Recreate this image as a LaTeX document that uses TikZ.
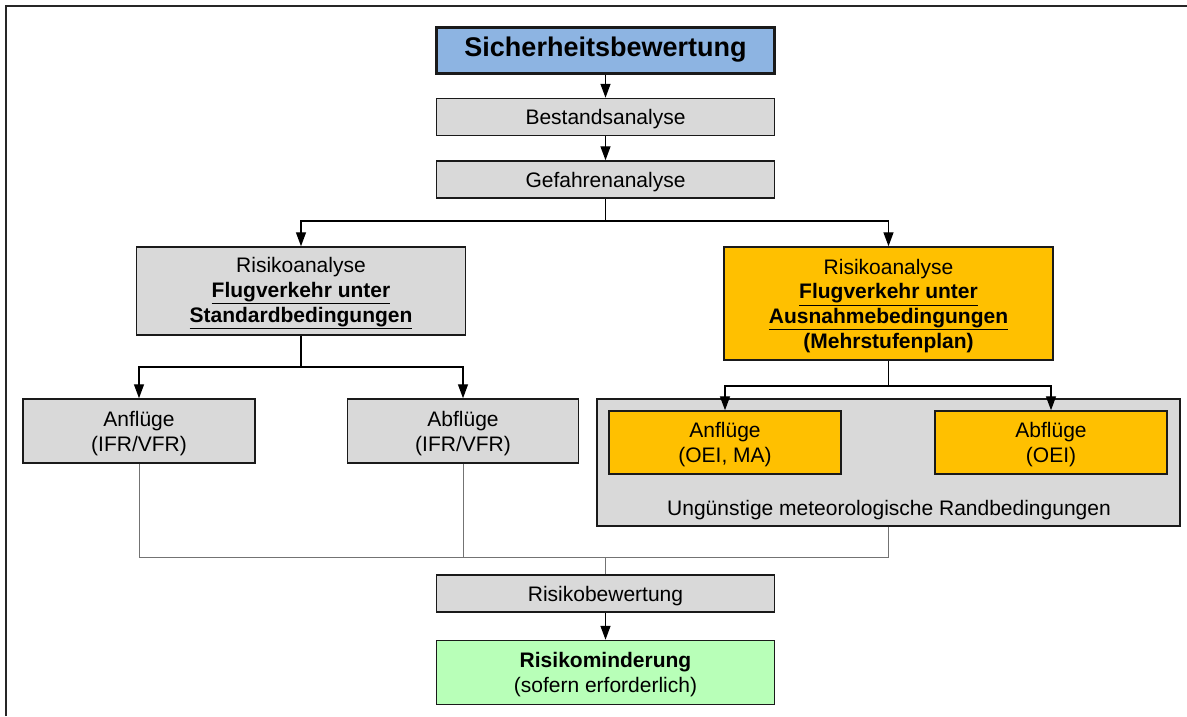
\documentclass[tikz,border=0pt]{standalone}
\usepackage{fontspec}
\setmainfont{Liberation Sans}
\usetikzlibrary{arrows.meta}
\definecolor{bgray}{HTML}{D9D9D9}
\definecolor{borange}{HTML}{FFC000}
\definecolor{bblue}{HTML}{8DB4E2}
\definecolor{bgreen}{HTML}{B8FFB8}
\definecolor{edge}{HTML}{1A1A1A}
\tikzset{
  box/.style={draw=edge, line width=1.5pt, align=center, inner sep=0pt,
    font=\fontsize{21}{24.8}\selectfont},
  graybox/.style={box, fill=bgray},
  orangebox/.style={box, fill=borange},
  conn/.style={line width=1.4pt, draw=black, -{Triangle[length=14pt,width=10pt]}},
  plain/.style={line width=1.4pt, draw=black},
  gline/.style={line width=0.9pt, draw=black!55},
}
\newcommand{\bu}[1]{\textbf{\underline{#1}}}
\newcommand{\up}{\rule{0pt}{20pt}}
\begin{document}
\begin{tikzpicture}[x=1pt,y=-1pt]
\useasboundingbox (0,0) rectangle (1187,716);
\draw[line width=2.2pt, black!85] (6,716) -- (6,6) -- (1187,6);

% top chain
\node[box, fill=bblue, line width=3pt, minimum width=338, minimum height=46,
  font=\fontsize{27}{30}\selectfont\bfseries] (sich) at (605.5,50) {Sicherheitsbewertung};
\node[graybox, minimum width=338, minimum height=37] (best) at (605.5,117) {\up Bestandsanalyse};
\node[graybox, minimum width=338, minimum height=37] (gef) at (605.5,179.5) {\up Gefahrenanalyse};

% risk analyses
\node[graybox, minimum width=329, minimum height=88] (rl) at (301,291)
  {\up Risikoanalyse\\\bu{Flugverkehr unter}\\\bu{Standardbedingungen}};
\node[orangebox, minimum width=329, minimum height=113] (rr) at (888.5,303.5)
  {\up Risikoanalyse\\\bu{Flugverkehr unter}\\\bu{Ausnahmebedingungen}\\\textbf{(Mehrstufenplan)}};

% left children
\node[graybox, minimum width=232, minimum height=64] (al) at (139,431) {\up Anflüge\\(IFR/VFR)};
\node[graybox, minimum width=231, minimum height=64] (ab) at (463,431) {\up Abflüge\\(IFR/VFR)};

% right container and children
\node[graybox, minimum width=583, minimum height=127] (cont) at (888.5,462.5) {};
\node[orangebox, minimum width=232, minimum height=63] (ar) at (725,442.5) {\up Anflüge\\(OEI, MA)};
\node[orangebox, minimum width=232, minimum height=63] (br) at (1051,442.5) {\up Abflüge\\(OEI)};
\node[font=\fontsize{21}{24.8}\selectfont, inner sep=0pt] (ung) at (889,508) {\up Ungünstige meteorologische Randbedingungen};

% bottom chain
\node[graybox, minimum width=338, minimum height=37] (rbw) at (605.5,593.5) {\up Risikobewertung};
\node[box, fill=bgreen, minimum width=338, minimum height=64] (rmi) at (605.5,672.5)
  {\up\textbf{Risikominderung}\\(sofern erforderlich)};

% connectors top
\draw[conn] (sich) -- (best);
\draw[conn] (best) -- (gef);
\coordinate (j1) at (605.5,221);
\draw[plain] (gef.south) -- (j1);
\draw[conn] (j1) -| (rl);
\draw[conn] (j1) -| (rr);

\coordinate (j2) at (301,367);
\draw[plain] (rl.south) -- (j2);
\draw[conn] (j2) -| (al);
\draw[conn] (j2) -| (ab);

\coordinate (j3) at (888.5,386);
\draw[plain] (rr.south) -- (j3);
\draw[conn] (j3) -| (ar);
\draw[conn] (j3) -| (br);

% bottom gray connectors
\coordinate (jb) at (605.5,557);
\draw[gline] (al.south) |- (jb);
\draw[gline] (ab.south) -- (ab.south |- jb);
\draw[gline] (cont.south) |- (jb);
\draw[gline] (jb) -- (rbw.north);
\draw[conn] (rbw) -- (rmi);
\end{tikzpicture}
\end{document}
